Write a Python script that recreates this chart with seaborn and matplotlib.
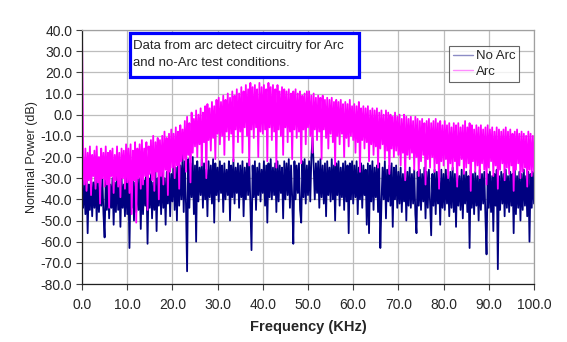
import numpy as np
import pandas as pd
import matplotlib
matplotlib.use('Agg')
import matplotlib.pyplot as plt
import seaborn as sns
from matplotlib.patches import Rectangle

# spectrum values, one value every 0.25 kHz (0 .. 100 kHz)
no_arc = [
    -35, -44, -31, -47, -29, -56, -33, -45, -30, -48,
    -32, -44, -29, -50, -31, -46, -34, -43, -30, -47,
    -58, -31, -45, -29, -49, -33, -44, -30, -52, -32,
    -46, -28, -45, -31, -53, -30, -44, -33, -48, -29,
    -47, -30, -63, -31, -44, -28, -50, -32, -46, -29,
    -45, -30, -54, -27, -47, -31, -43, -29, -61, -30,
    -44, -28, -49, -32, -45, -27, -55, -30, -43, -28,
    -47, -26, -44, -30, -52, -27, -42, -25, -48, -28,
    -41, -22, -45, -25, -50, -20, -43, -24, -40, -19,
    -46, -22, -42, -74, -21, -44, -23, -39, -20, -47,
    -24, -60, -22, -41, -25, -38, -21, -44, -23, -40,
    -26, -48, -22, -39, -24, -42, -21, -51, -23, -38,
    -25, -41, -22, -37, -24, -46, -23, -40, -26, -38,
    -22, -50, -24, -39, -21, -42, -25, -37, -23, -44,
    -24, -39, -22, -48, -25, -40, -23, -38, -21, -43,
    -64, -24, -39, -22, -45, -25, -38, -23, -41, -26,
    -37, -22, -43, -24, -51, -23, -39, -21, -40, -25,
    -38, -23, -46, -22, -41, -24, -37, -25, -49, -22,
    -40, -23, -38, -21, -44, -24, -39, -61, -22, -40,
    -24, -37, -23, -45, -51, -22, -39, -21, -42, -24,
    -38, -22, -41, -20, -11, -24, -40, -23, -37, -22,
    -44, -21, -39, -24, -42, -23, -48, -22, -38, -25,
    -41, -21, -40, -24, -50, -23, -38, -22, -43, -25,
    -39, -23, -45, -22, -41, -24, -56, -23, -40, -22,
    -42, -24, -39, -22, -47, -25, -40, -23, -44, -24,
    -38, -26, -52, -23, -56, -24, -41, -22, -45, -25,
    -39, -24, -46, -23, -63, -42, -25, -40, -22, -49,
    -26, -41, -24, -43, -23, -53, -25, -40, -24, -44,
    -27, -42, -25, -46, -28, -41, -26, -50, -27, -43,
    -25, -44, -28, -42, -26, -47, -56, -27, -43, -26,
    -45, -28, -41, -25, -49, -27, -44, -26, -42, -57,
    -28, -43, -26, -47, -27, -42, -29, -52, -26, -44,
    -28, -45, -26, -42, -29, -48, -27, -44, -25, -46,
    -28, -53, -27, -43, -29, -45, -26, -49, -28, -42,
    -27, -46, -29, -63, -26, -44, -28, -47, -27, -43,
    -29, -50, -26, -45, -28, -42, -27, -48, -66, -28,
    -44, -27, -46, -29, -55, -28, -43, -26, -73, -29,
    -45, -27, -42, -28, -48, -26, -44, -29, -46, -27,
    -43, -28, -56, -26, -47, -29, -44, -27, -50, -28,
    -45, -26, -43, -29, -48, -27, -60, -28, -44, -27,
    -42,
]

arc = [
    40, -20, -33, -16, -36, -18, -31, -15, -38, -19,
    -29, -17, -35, -15, -32, -20, -42, -16, -30, -18,
    -34, -15, -33, -18, -44, -17, -29, -16, -37, -19,
    -31, -15, -34, -18, -39, -16, -30, -17, -35, -14,
    -32, -16, -37, -14, -47, -17, -31, -13, -51, -16,
    -30, -14, -35, -12, -33, -16, -29, -13, -45, -15,
    -28, -12, -31, -10, -36, -13, -27, -11, -40, -12,
    -29, -10, -33, -8, -26, -11, -38, -9, -27, -7,
    -25, -9, -30, -6, -24, -8, -35, -5, -22, -7,
    -21, -3, -27, -1, -19, -4, -32, 1, -18, -2,
    -15, 2, -20, 0, -14, 3, -24, 1, -13, 4,
    -30, 5, -12, 3, -17, 6, -11, 4, -21, 7,
    -9, 8, -14, 6, -10, 9, -19, 7, -8, 10,
    -12, 8, -9, 11, -22, 9, -7, 12, -13, 10,
    -8, 13, -18, 11, -6, 14, -10, 12, -24, 15,
    -7, 13, -11, 14, -6, 12, -20, 15, -8, 13,
    -9, 14, -7, 12, -22, 15, -6, 13, -12, 14,
    -8, 12, -25, 14, -7, 11, -10, 13, -19, 12,
    -6, 11, -13, 12, -8, 10, -21, 11, -7, 12,
    -11, 10, -8, 11, -23, 9, -7, 10, -14, 11,
    -6, 11, -10, 9, -18, 10, -7, 8, -12, 9,
    -8, 8, -21, 9, -7, 7, -11, 8, -16, 7,
    -9, 8, -13, 6, -24, 7, -10, 6, -14, 7,
    -9, 5, -20, 6, -11, 5, -15, 7, -10, 4,
    -12, 5, -18, 4, -13, 6, -27, 3, -12, 4,
    -16, 3, -13, 4, -22, 2, -14, 3, -19, 2,
    -15, 3, -25, 1, -16, 2, -14, 0, -21, 2,
    -17, 1, -28, 0, -16, -1, -20, 1, -17, -1,
    -19, 0, -24, -2, -18, 0, -31, -1, -19, -2,
    -21, -1, -18, -3, -26, -1, -20, -2, -29, -3,
    -22, -2, -19, -4, -33, -3, -21, -2, -25, -4,
    -20, -3, -27, -2, -23, -4, -35, -3, -22, -5,
    -24, -3, -21, -5, -30, -4, -23, -6, -26, -4,
    -22, -5, -34, -4, -24, -6, -21, -5, -28, -3,
    -25, -6, -23, -4, -36, -5, -22, -7, -27, -5,
    -24, -6, -30, -5, -23, -7, -26, -6, -33, -5,
    -25, -7, -22, -6, -29, -8, -24, -6, -35, -7,
    -26, -8, -23, -7, -31, -6, -25, -8, -28, -7,
    -24, -9, -36, -8, -26, -7, -23, -9, -30, -8,
    -27, -9, -25, -10, -34, -8, -26, -9, -29, -10,
    -27,
]

x_ticks = [0, 10, 20, 30, 40, 50, 60, 70, 80, 90, 100]
y_ticks = [-80, -70, -60, -50, -40, -30, -20, -10, 0, 10, 20, 30, 40]
note = 'Data from arc detect circuitry for Arc\nand no-Arc test conditions.'

freq_na = np.linspace(0, 100, len(no_arc))
freq_a = np.linspace(0, 100, len(arc))

sns.set_style('white')
plt.rcParams['font.family'] = ['Liberation Sans', 'DejaVu Sans']

fig = plt.figure(figsize=(5.67, 3.42), dpi=100)
ax = fig.add_axes([82/567, 1-284/342, 452/567, 254/342])

sns.lineplot(x=freq_na, y=no_arc, ax=ax, color='#000080', linewidth=1.3,
             estimator=None, sort=False, label='No Arc')
sns.lineplot(x=freq_a, y=arc, ax=ax, color='#ff00ff', linewidth=1.3,
             estimator=None, sort=False, label='Arc')

ax.set_xlim(0, 100)
ax.set_ylim(-80, 40)
ax.set_xticks(x_ticks)
ax.set_yticks(y_ticks)
ax.set_xticklabels(['%.1f' % v for v in x_ticks], fontsize=10)
ax.set_yticklabels(['%.1f' % v for v in y_ticks], fontsize=10)
ax.tick_params(axis='both', direction='out', length=4, width=0.8,
               color='#404040', pad=3, bottom=True, left=True)
ax.tick_params(axis='x', pad=6)
ax.grid(True, color='#bdbdbd', linewidth=0.9)
ax.set_axisbelow(True)
for s in ['top', 'right']:
    ax.spines[s].set_color('#a0a0a0')
    ax.spines[s].set_linewidth(0.9)
for s in ['left', 'bottom']:
    ax.spines[s].set_color('#202020')
    ax.spines[s].set_linewidth(0.9)

ax.set_xlabel('Frequency (KHz)', fontsize=10.5, fontweight='bold', labelpad=6)
ax.set_ylabel('Nominal Power (dB)', fontsize=9, labelpad=2)

leg = ax.legend(loc='upper right', bbox_to_anchor=(0.967, 0.937), fontsize=9.5,
                frameon=True, fancybox=False, edgecolor='#404040',
                handlelength=1.5, handletextpad=0.2, borderpad=0.3,
                labelspacing=0.25, borderaxespad=0)
leg.get_frame().set_linewidth(0.8)
for h in leg.get_lines():
    h.set_alpha(0.45)
    h.set_linewidth(1.0)

ax.add_patch(Rectangle((0.106, 0.815), 0.507, 0.173, transform=ax.transAxes,
                       facecolor='white', edgecolor='#0000ff', linewidth=2.3,
                       zorder=5, clip_on=False))
ax.text(0.113, 0.960, note, transform=ax.transAxes, fontsize=9.5,
        va='top', ha='left', linespacing=1.5, zorder=6)

fig.savefig('out.png', dpi=100)
